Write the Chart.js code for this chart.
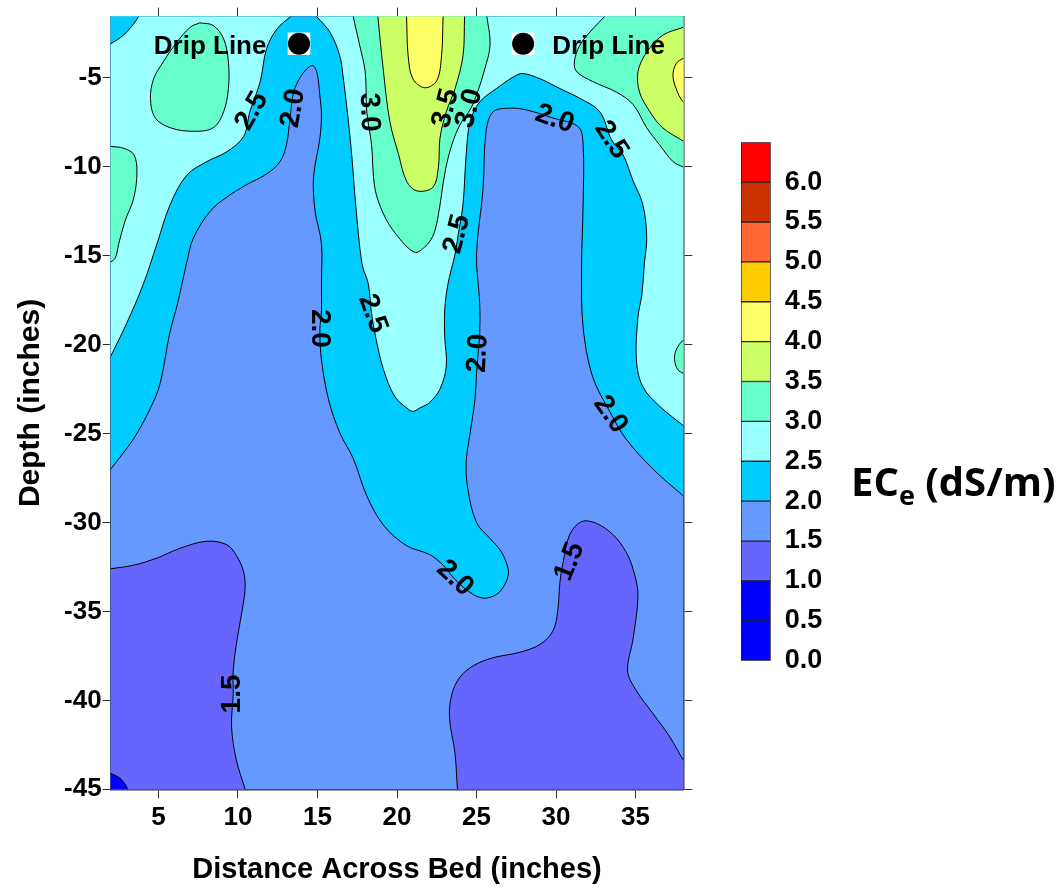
<!DOCTYPE html>
<html>
<head>
<meta charset="utf-8">
<script src="https://cdn.jsdelivr.net/npm/chart.js@4.4.1/dist/chart.umd.min.js"></script>
<style>
    html, body { margin: 0; padding: 0; background: #fff; }
    #wrap { position: relative; width: 1063px; height: 889px; }
    #main { position: absolute; left: 0; top: 0; }
    #bar { position: absolute; left: 735px; top: 120px; }
    #unit {
        position: absolute; left: 851px; top: 461px;
        font: bold 40px 'Open Sans', sans-serif; line-height: 40px;
        color: #000; white-space: nowrap;
    }
    #unit sub { font-size: 27px; vertical-align: -9px; line-height: 0; }
</style>
</head>
<body>
<div id="wrap">
    <canvas id="main" width="1063" height="889"></canvas>
    <canvas id="bar" width="120" height="570"></canvas>
    <div id="unit">EC<sub>e</sub> (dS/m)</div>
</div>
<script>
// contour levels and the colour of each band (band i spans levels[i]..levels[i+1])
const levels = [0, 0.5, 1, 1.5, 2, 2.5, 3, 3.5, 4, 4.5, 5, 5.5, 6, 6.5];
const bandColors = ['#0000ff', '#0000ff', '#6666ff', '#6699ff', '#00ccff', '#99ffff',
    '#66ffcc', '#ccff66', '#ffff66', '#ffcc00', '#ff6633', '#cc3300', '#ff0000'];
const colorbarTicks = [0, 0.5, 1, 1.5, 2, 2.5, 3, 3.5, 4, 4.5, 5, 5.5, 6];

const xTicks = [5, 10, 15, 20, 25, 30, 35];
const yTicks = [-5, -10, -15, -20, -25, -30, -35, -40, -45];

// contour outlines, [distance, depth] in inches
const areaAll = [[1, -0.8], [39, -0.8], [39, -46], [1, -46]];
const ec15West = [[1.0, -32.75], [2.0, -32.6], [3.43, -32.4], [4.9, -32.0], [6.35, -31.45], [8.05, -31.05], [9.3, -31.25], [9.9, -31.85], [10.35, -32.75], [10.45, -33.7], [10.25, -35.0], [9.9, -36.85], [9.7, -38.35], [9.7, -39.65], [9.6, -41.5], [9.9, -43.35], [10.45, -45.0], [10.75, -46.0], [1.0, -46.0]];
const ec15East = [[23.9, -46.0], [23.8, -45.0], [23.65, -43.0], [23.3, -40.95], [23.45, -39.65], [23.95, -38.7], [24.8, -38.05], [26.05, -37.6], [27.7, -37.3], [29.0, -36.85], [29.8, -36.1], [30.1, -35.0], [30.25, -33.3], [30.45, -32.2], [30.85, -30.7], [31.6, -29.95], [32.55, -30.05], [33.6, -30.7], [34.4, -31.65], [34.85, -32.65], [35.15, -34.05], [34.85, -36.5], [34.5, -38.35], [35.05, -39.45], [36.1, -40.75], [37.15, -42.05], [38.0, -43.35], [39.0, -44.6], [39.0, -46.0]];
const ec10Corner = [[1.0, -43.6], [2.0, -44.1], [2.55, -44.35], [2.9, -44.7], [3.05, -45.0], [3.2, -46.0], [1.0, -46.0]];
const ec20 = [[1.0, -28.2], [2.0, -27.0], [3.43, -25.3], [4.48, -23.6], [5.1, -22.2], [5.7, -19.4], [6.2, -17.7], [6.8, -15.3], [7.2, -14.0], [8.25, -12.5], [9.3, -11.7], [10.55, -11.0], [11.8, -10.4], [12.65, -9.7], [13.05, -8.75], [13.3, -7.1], [13.5, -5.8], [14.0, -4.85], [14.65, -4.3], [14.95, -4.65], [15.15, -6.0], [15.25, -7.1], [15.15, -8.4], [14.75, -10.6], [14.85, -12.5], [15.25, -14.3], [15.25, -16.6], [15.25, -18.1], [15.15, -19.2], [15.25, -20.85], [15.7, -23.1], [16.4, -24.95], [17.25, -26.4], [18.1, -28.5], [19.15, -30.15], [20.6, -31.3], [22.05, -31.8], [22.9, -32.4], [23.65, -33.2], [24.8, -34.05], [25.6, -34.25], [26.45, -33.9], [27.0, -32.95], [26.85, -32.2], [26.45, -31.5], [25.85, -30.9], [25.0, -30.0], [24.45, -28.1], [24.35, -26.6], [24.6, -24.95], [24.9, -23.1], [25.0, -21.6], [25.1, -20.5], [25.2, -19.35], [25.2, -17.7], [25.0, -14.9], [25.4, -11.35], [25.6, -8.0], [26.05, -6.9], [27.1, -6.7], [28.15, -6.8], [29.8, -7.25], [31.4, -7.75], [31.7, -8.75], [31.7, -12.1], [31.6, -15.8], [31.7, -19.0], [32.3, -21.8], [33.4, -23.8], [34.4, -25.3], [36.1, -27.0], [38.0, -28.5], [39.0, -29.3], [39.0, -0.8], [1.0, -0.8]];
const ec25West = [[1.0, -22.4], [2.0, -20.65], [3.0, -18.8], [4.05, -16.6], [4.9, -14.35], [5.75, -12.1], [6.8, -10.45], [8.05, -9.7], [9.3, -9.15], [10.35, -8.3], [10.75, -6.9], [11.4, -5.2], [11.8, -3.35], [12.45, -2.25], [13.3, -1.55], [14.2, -0.8], [1.0, -0.8]];
const ec25Mid = [[14.2, -0.8], [14.95, -1.55], [15.8, -2.45], [16.4, -3.75], [16.6, -4.85], [16.9, -7.1], [17.15, -9.3], [17.4, -12.1], [17.8, -15.45], [18.2, -16.6], [18.4, -18.25], [18.7, -19.75], [19.15, -21.4], [19.85, -22.9], [20.6, -23.55], [21.0, -23.75], [21.45, -23.55], [22.05, -23.25], [22.7, -22.5], [23.1, -21.2], [23.0, -19.55], [23.0, -18.05], [23.2, -16.6], [23.65, -14.9], [23.85, -13.8], [24.15, -12.1], [24.35, -9.3], [24.6, -7.45], [25.2, -6.35], [26.25, -5.6], [27.3, -4.95], [27.9, -4.75], [29.0, -5.05], [30.25, -5.6], [31.5, -6.15], [32.75, -6.9], [33.5, -8.5], [34.2, -9.3], [34.85, -10.8], [35.45, -12.1], [35.7, -13.95], [35.55, -15.45], [35.4, -17.15], [35.15, -18.45], [35.05, -20.85], [35.45, -22.35], [36.5, -23.45], [38.0, -24.55], [39.0, -25.3], [39.0, -0.8]];
const ec20Corner = [[1.0, -3.6], [2.0, -3.08], [2.8, -2.6], [3.45, -1.95], [3.75, -1.55], [4.3, -0.8], [1.0, -0.8]];
const ec30NW = [[7.6, -1.9], [8.45, -2.05], [9.1, -2.8], [9.4, -4.1], [9.4, -5.6], [9.1, -6.9], [8.45, -7.8], [7.2, -8.0], [5.75, -7.8], [4.8, -7.25], [4.5, -6.15], [4.7, -5.05], [5.3, -4.1], [6.15, -3.0], [7.0, -2.15], [7.6, -1.9]];
const ec30West = [[1.0, -8.75], [2.0, -8.85], [2.8, -8.95], [3.45, -9.3], [3.65, -10.25], [3.45, -11.75], [2.9, -13.05], [2.5, -14.35], [2.3, -15.1], [2.0, -15.35], [1.0, -15.9]];
const ec30Mid = [[17.1, -0.8], [17.25, -1.55], [17.65, -3.15], [18.0, -4.65], [18.1, -6.9], [18.4, -8.75], [18.6, -11.15], [19.15, -12.65], [19.95, -13.8], [21.1, -14.8], [21.75, -14.5], [22.25, -13.9], [22.55, -12.95], [22.8, -11.55], [23.05, -10.15], [23.45, -8.75], [23.95, -7.65], [24.65, -6.7], [25.1, -5.7], [25.5, -4.55], [25.85, -3.15], [25.65, -1.55], [25.5, -0.8]];
const ec30NE = [[33.8, -0.8], [33.05, -1.55], [32.3, -2.25], [31.5, -3.15], [31.15, -4.1], [31.3, -4.65], [32.3, -5.2], [33.8, -5.8], [34.85, -6.5], [35.7, -7.8], [36.5, -8.75], [37.35, -9.7], [38.0, -10.0], [39.0, -10.3], [39.0, -0.8]];
const ec30East = [[39.0, -19.4], [38.0, -19.75], [37.55, -20.3], [37.45, -20.85], [37.65, -21.4], [38.0, -21.6], [39.0, -21.9]];
const ec35Mid = [[18.75, -0.8], [18.8, -1.55], [19.15, -4.65], [19.55, -7.45], [20.1, -9.3], [20.6, -10.8], [21.25, -11.35], [22.25, -11.15], [22.6, -10.05], [22.7, -8.4], [23.1, -6.9], [23.65, -5.6], [24.15, -3.75], [24.25, -1.55], [24.3, -0.8]];
const ec35East = [[39.0, -1.8], [38.0, -2.15], [36.7, -2.6], [35.7, -3.55], [35.15, -4.65], [35.25, -5.8], [35.9, -6.9], [36.7, -7.8], [38.0, -8.55], [39.0, -9.1]];
const ec40Mid = [[20.55, -0.8], [20.6, -1.55], [20.7, -3.75], [21.0, -5.05], [21.75, -5.55], [22.5, -5.15], [22.8, -3.75], [22.9, -1.55], [22.95, -0.8]];
const ec40East = [[39.0, -3.6], [38.0, -3.9], [37.55, -4.2], [37.35, -4.85], [37.55, -5.6], [38.0, -6.35], [39.0, -6.9]];

// contour value labels
const labelText = ['2.5', '2.0', '3.0', '3.5', '3.0', '2.0', '2.5', '2.5', '2.5', '2.0', '2.0', '2.0', '2.0', '1.5', '1.5'];
const labelX = [10.87, 13.48, 18.25, 23.07, 24.54, 29.92, 33.48, 23.78, 18.47, 15.16, 25.10, 33.42, 23.64, 30.86, 9.67];
const labelY = [-6.86, -6.71, -6.93, -6.71, -6.71, -7.31, -8.48, -13.78, -18.25, -19.08, -20.48, -23.92, -33.13, -32.20, -39.64];
const labelAngle = [-60, -80, 88, -75, -75, 20, 57, -75, 70, 90, -87, 55, 43, -68, -90];

// drip line emitters
const dripX = [13.84, 27.93];
const dripY = [-3.08, -3.08];
const dripNote = ['Drip Line', 'Drip Line'];
const dripNoteX = [8.25, 33.3];
const dripNoteY = [-3.27, -3.27];

Chart.defaults.font.family = "'Liberation Sans', Arial, sans-serif";
Chart.defaults.color = '#000';

const layers = [
    [areaAll, 3], [ec15West, 2], [ec15East, 2], [ec10Corner, 1],
    [ec20, 4], [ec25West, 5], [ec25Mid, 5], [ec20Corner, 4],
    [ec30NW, 6], [ec30West, 6], [ec30Mid, 6], [ec30NE, 6], [ec30East, 6],
    [ec35Mid, 7], [ec35East, 7], [ec40Mid, 8], [ec40East, 8]
];

const total = layers.length + 2;
const datasets = layers.map(([pts, band], i) => ({
    data: pts.map(p => ({x: p[0], y: p[1]})),
    showLine: true,
    fill: 'shape',
    backgroundColor: bandColors[band],
    borderColor: '#000',
    borderWidth: i === 0 ? 0 : 1,
    tension: i === 0 ? 0 : 0.35,
    pointRadius: 0,
    clip: 0,
    order: total - i
}));
datasets.push({
    data: dripX.map((x, i) => ({x, y: dripY[i]})),
    pointStyle: 'rect', pointRadius: 16, pointBackgroundColor: '#fff', pointBorderWidth: 0,
    order: 1
});
datasets.push({
    data: dripX.map((x, i) => ({x, y: dripY[i]})),
    pointStyle: 'circle', pointRadius: 11, pointBackgroundColor: '#000', pointBorderWidth: 0,
    order: 0
});

const contourLabels = {
    id: 'contourLabels',
    afterDatasetsDraw(chart) {
        const {ctx, scales: {x, y}} = chart;
        ctx.save();
        ctx.fillStyle = '#000';
        ctx.textAlign = 'center';
        ctx.textBaseline = 'middle';
        ctx.font = "bold 28px 'Liberation Sans', Arial, sans-serif";
        labelText.forEach((t, i) => {
            ctx.save();
            ctx.translate(x.getPixelForValue(labelX[i]), y.getPixelForValue(labelY[i]));
            ctx.rotate(labelAngle[i] * Math.PI / 180);
            ctx.fillText(t, 0, 0);
            ctx.restore();
        });
        ctx.font = "bold 26px 'Liberation Sans', Arial, sans-serif";
        dripNote.forEach((t, i) => {
            ctx.fillText(t, x.getPixelForValue(dripNoteX[i]), y.getPixelForValue(dripNoteY[i]));
        });
        ctx.restore();
    }
};

const frame = {color: '#333', width: 1.5};
const setTicks = list => axis => { axis.ticks = list.map(v => ({value: v})); };

new Chart(document.getElementById('main'), {
    type: 'scatter',
    data: {datasets},
    options: {
        responsive: false,
        animation: false,
        events: [],
        layout: {padding: 0},
        elements: {line: {capBezierPoints: false}},
        plugins: {legend: {display: false}, tooltip: {enabled: false}},
        scales: {
            x: {
                type: 'linear', position: 'bottom', min: 2, max: 38,
                afterBuildTicks: setTicks(xTicks),
                afterFit: s => { s.height = 99.7; },
                ticks: {padding: 4, font: {size: 26, weight: 'bold'}, callback: v => String(v)},
                grid: {drawOnChartArea: false, tickLength: 9, color: '#333'},
                border: frame,
                title: {display: true, text: 'Distance Across Bed (inches)', font: {size: 29, weight: 'bold'}, padding: {top: 0, bottom: 2}}
            },
            y: {
                type: 'linear', position: 'left', min: -45, max: -1.55,
                afterBuildTicks: setTicks(yTicks),
                afterFit: s => { s.width = 110.7; },
                ticks: {padding: 1, font: {size: 26, weight: 'bold'}, callback: v => String(v)},
                grid: {drawOnChartArea: false, tickLength: 8, color: '#333'},
                border: frame,
                title: {display: true, text: 'Depth (inches)', font: {size: 30, weight: 'bold'}, padding: {top: 13, bottom: 0}}
            },
            xTop: {
                type: 'linear', position: 'top', min: 2, max: 38,
                afterBuildTicks: setTicks(xTicks),
                afterFit: s => { s.height = 11; },
                ticks: {display: false},
                grid: {drawOnChartArea: false, tickLength: 9, color: '#333'},
                border: frame
            },
            yRight: {
                type: 'linear', position: 'right', min: -45, max: -1.55,
                afterBuildTicks: setTicks(yTicks),
                afterFit: s => { s.width = 379.7; },
                ticks: {display: false},
                grid: {drawOnChartArea: false, tickLength: 9, color: '#333'},
                border: frame
            }
        }
    },
    plugins: [contourLabels]
});

// colour bar
new Chart(document.getElementById('bar'), {
    type: 'bar',
    data: {
        labels: [''],
        datasets: bandColors.map((c, i) => ({
            data: [[levels[i], levels[i + 1]]],
            backgroundColor: c,
            borderColor: '#222',
            borderWidth: 1,
            borderSkipped: false,
            grouped: false,
            barPercentage: 1,
            categoryPercentage: 1
        }))
    },
    options: {
        responsive: false,
        animation: false,
        events: [],
        layout: {padding: {left: 6, top: 20.7, bottom: 29.3, right: 0}},
        plugins: {legend: {display: false}, tooltip: {enabled: false}},
        scales: {
            x: {display: false},
            y: {
                position: 'right', min: 0, max: 6.5,
                afterBuildTicks: setTicks(colorbarTicks),
                afterFit: s => { s.width = 84.3; },
                ticks: {padding: 6, font: {size: 27, weight: 'bold'}, callback: v => v.toFixed(1)},
                grid: {display: false},
                border: {display: false}
            }
        }
    }
});
</script>
</body>
</html>
